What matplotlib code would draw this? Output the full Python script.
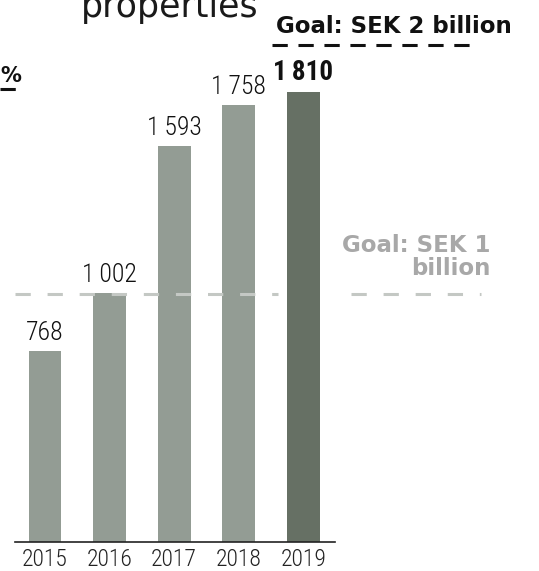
import numpy as np
import matplotlib.pyplot as plt
from matplotlib import font_manager

# Rental income from properties, SEK million
years = ["2015", "2016", "2017", "2018", "2019"]
income = [768, 1002, 1593, 1758, 1810]
goal_low = 1000
goal_high = 2000

bar_light = "#939c94"
bar_dark = "#667064"

# pick a narrow face for the numbers if one is around
installed = {f.name for f in font_manager.fontManager.ttflist}
narrow = [f for f in ["Roboto Condensed", "Liberation Sans Narrow",
                      "DejaVu Sans Condensed", "Roboto"] if f in installed]
narrow.append("DejaVu Sans")

fig = plt.figure(figsize=(5.39, 5.71), dpi=100)
ax = fig.add_axes([15 / 539, 29 / 571, 320 / 539, 497 / 571])

x = np.arange(len(years))
colors = [bar_light] * (len(years) - 1) + [bar_dark]
bars = ax.bar(x, income, width=0.51, color=colors, zorder=2)

ax.set_xlim(-0.464, 4.49)
ax.set_ylim(0, goal_high)

# value labels, latest year in bold
for i, (xi, v) in enumerate(zip(x, income)):
    txt = f"{v:,}".replace(",", "\u2009")
    last = i == len(years) - 1
    ax.annotate(txt, (xi, v), xytext=(0, 4.5), textcoords="offset points",
                ha="center", va="bottom", family=narrow,
                fontsize=19.5 if last else 18.5,
                fontweight="bold" if last else "light",
                color="#111111")

# goal lines
ax.plot([-0.464, 3.6], [goal_low, goal_low], color="#c4c8c4", lw=2.2,
        dashes=(5, 5.5), zorder=3, clip_on=False)
ax.plot([4.74, 6.75], [goal_low, goal_low], color="#c4c8c4", lw=2.2,
        dashes=(5, 5.5), zorder=3, clip_on=False)
ax.plot([3.52, 6.7], [goal_high, goal_high], color="#111111", lw=2.2,
        dashes=(5, 3.5), zorder=3, clip_on=False)

ax.text(6.9, 1055, "Goal: SEK 1\nbillion", ha="right", va="bottom",
        fontsize=16.5, fontweight="bold", color="#a8a8a8",
        linespacing=1.0, clip_on=False)
fig.text(276 / 539, 1 - 33 / 571, "Goal: SEK 2 billion", ha="left",
         va="baseline", fontsize=16.5, fontweight="bold", color="#111111")

# cut-off neighbour panel on the left
fig.text(0, 1 - 82 / 571, "%", ha="left", va="baseline", fontsize=15,
         fontweight="bold", color="#111111")
fig.add_artist(plt.Line2D([0, 18 / 539], [1 - 89 / 571, 1 - 89 / 571],
                          color="#111111", lw=2.2, dashes=(5, 3.5)))

fig.text(170 / 539, 1 - 17 / 571, "properties", ha="center", va="baseline",
         fontsize=25, color="#1a1a1a")

for side in ["top", "right", "left"]:
    ax.spines[side].set_visible(False)
ax.spines["bottom"].set_linewidth(1.2)
ax.spines["bottom"].set_color("#222222")
ax.set_yticks([])
ax.set_xticks(x)
ax.set_xticklabels(years, family=narrow, fontsize=17, fontweight="light",
                   color="#222222")
ax.tick_params(axis="x", length=0, pad=4)

fig.savefig("out.png", dpi=100)
